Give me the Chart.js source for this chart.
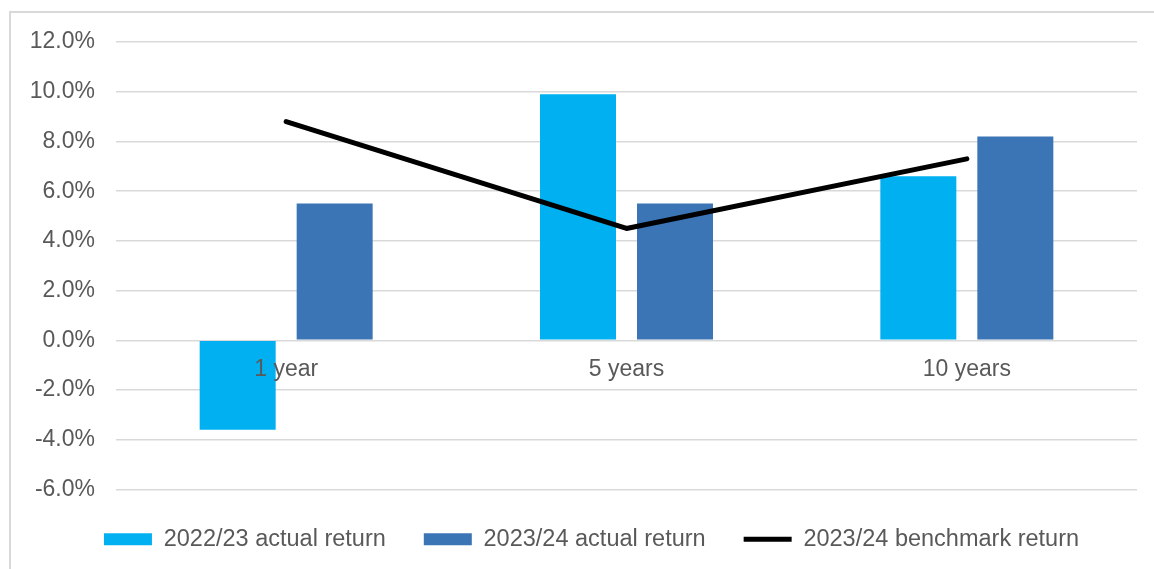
<!DOCTYPE html>
<html>
<head>
<meta charset="utf-8">
<script src="https://cdn.jsdelivr.net/npm/chart.js@4"></script>
<style>
  html, body { margin: 0; padding: 0; background: #fff; overflow: hidden; }
  #wrap { position: relative; width: 1154px; height: 569px; }
  #frame { position: absolute; left: 9px; top: 11px; width: 1200px; height: 700px; border: 2px solid #d9d9d9; box-sizing: border-box; pointer-events: none; }
  canvas { position: absolute; left: 0; top: 0; }
</style>
</head>
<body>
<div id="wrap">
  <div id="frame"></div>
  <canvas id="c" width="1154" height="569"></canvas>
</div>
<script>
const categories = ['1 year', '5 years', '10 years'];
const actual2223 = [-3.6, 9.9, 6.6];
const actual2324 = [5.5, 5.5, 8.2];
const benchmark2324 = [8.8, 4.5, 7.3];
const seriesNames = ['2022/23 actual return', '2023/24 actual return', '2023/24 benchmark return'];
const yMin = -6, yMax = 12, yStep = 2;

const txt = '#595959';
const fam = '"Liberation Sans", Arial, sans-serif';

// shifts the legend block to the right, as in the reference
const legendShift = {
  id: 'legendShift',
  afterLayout(chart) {
    const lg = chart.legend;
    if (lg) { lg.left += 23; lg.right += 23; }
  }
};

new Chart(document.getElementById('c'), {
  data: {
    labels: categories,
    datasets: [
      {
        type: 'line', label: seriesNames[2], data: benchmark2324,
        borderColor: '#000000', backgroundColor: '#000000', borderWidth: 5,
        borderCapStyle: 'round', borderJoinStyle: 'round',
        pointRadius: 0, pointHoverRadius: 0, tension: 0, order: 0, pointStyle: 'line'
      },
      {
        type: 'bar', label: seriesNames[0], data: actual2223,
        backgroundColor: '#00B0F0', borderWidth: 0, order: 1, pointStyle: 'rect',
        categoryPercentage: 0.57, barPercentage: 0.7835
      },
      {
        type: 'bar', label: seriesNames[1], data: actual2324,
        backgroundColor: '#3B75B6', borderWidth: 0, order: 1, pointStyle: 'rect',
        categoryPercentage: 0.57, barPercentage: 0.7835
      }
    ]
  },
  plugins: [legendShift],
  options: {
    responsive: false,
    animation: false,
    layout: { padding: { top: 42, right: 17, left: 0, bottom: 8 } },
    plugins: {
      tooltip: { enabled: false },
      legend: {
        position: 'bottom',
        labels: {
          usePointStyle: true,
          pointStyleWidth: 48,
          boxHeight: 12,
          boxWidth: 48,
          color: txt,
          padding: 38,
          font: { family: fam, size: 23.5 },
          sort: (a, b) => {
            const rank = [2, 0, 1];
            return rank[a.datasetIndex] - rank[b.datasetIndex];
          }
        }
      }
    },
    scales: {
      x: {
        position: { y: 0 },
        grid: { display: false, drawTicks: false },
        border: { display: false },
        ticks: { color: txt, font: { family: fam, size: 23 }, padding: 16, z: 1 },
        afterFit: (s) => { s.height = 0; }
      },
      y: {
        min: yMin, max: yMax,
        grid: { color: '#d9d9d9', lineWidth: 1.5, drawTicks: false },
        border: { display: false },
        ticks: {
          stepSize: yStep, color: txt, padding: 21,
          font: { family: fam, size: 23 },
          callback: (v) => v.toFixed(1) + '%'
        },
        afterFit: (s) => { s.width = 116; }
      }
    }
  }
});
</script>
</body>
</html>
